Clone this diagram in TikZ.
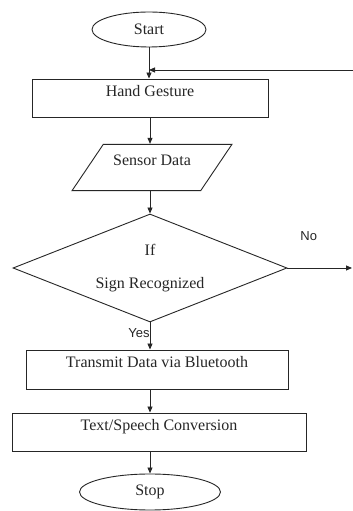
\documentclass[tikz,border=0pt]{standalone}
\usepackage{fontspec}
\setmainfont{Liberation Serif}
\newfontfamily\labelfont{Liberation Sans}
\usetikzlibrary{shapes.geometric,arrows.meta}
\definecolor{ink}{HTML}{262626}
\definecolor{paper}{HTML}{FFFFFF}
\tikzset{
  line/.style={draw=ink, line width=0.9pt},
  arr/.style={line, -{Triangle[length=6pt,width=5pt]}},
  txt/.style={text=ink, font=\fontsize{16}{19}\selectfont},
  term/.style={ellipse, line, txt, inner sep=0pt},
  proc/.style={rectangle, line, txt, inner xsep=0pt, inner ysep=0pt,
    text height=18pt, text depth=20pt},
  io/.style={trapezium, trapezium left angle=56, trapezium right angle=124,
    line, txt, inner sep=0pt, text height=17pt, text depth=20pt},
  decision/.style={diamond, line, txt, align=center, inner sep=0pt, aspect=2.54},
  lbl/.style={text=ink, font=\labelfont\fontsize{13}{15}\selectfont, inner sep=0pt}
}

\begin{document}
\begin{tikzpicture}[x=1pt,y=1pt]
  \useasboundingbox[fill=paper] (0,0) rectangle (353,511);

  \node[term, minimum width=114pt, minimum height=35pt] (start) at (149,481.5) {Start};
  \node[proc, minimum width=236pt] (hand) at (150,413) {Hand Gesture};
  \node[io, minimum width=160pt, minimum height=37pt] (sensor) at (152,343.5) {Sensor Data};
  \node[decision, minimum width=274pt, minimum height=108pt] (decide) at (150,243)
    {If\\[14pt]Sign Recognized};
  \node[proc, minimum width=262pt, text depth=21pt] (transmit) at (157,141.5) {Transmit Data via Bluetooth};
  \node[proc, minimum width=294pt] (convert) at (159,79) {Text/Speech Conversion};
  \node[term, minimum width=141pt, minimum height=36pt] (stop) at (150,19) {Stop};

  \coordinate (loopR) at (353,441);
  \coordinate (noR) at (352,243);

  \draw[arr] (start.south) -- (start.south |- hand.north);
  \draw[arr] (loopR) -- (loopR -| start);
  \draw[arr] (hand.south) -- (hand.south |- sensor.north);
  \draw[arr] (sensor.south -| hand) -- (decide.north);
  \draw[arr] (decide.east) -- node[lbl, pos=0.33, above=27pt] {No} (noR);
  \draw[arr] (decide.south) -- node[lbl, pos=0.39, anchor=east] {Yes} (decide.south |- transmit.north);
  \draw[arr] (transmit.south -| decide) -- (convert.north -| decide);
  \draw[arr] (convert.south -| decide) -- (stop.north);
\end{tikzpicture}
\end{document}
